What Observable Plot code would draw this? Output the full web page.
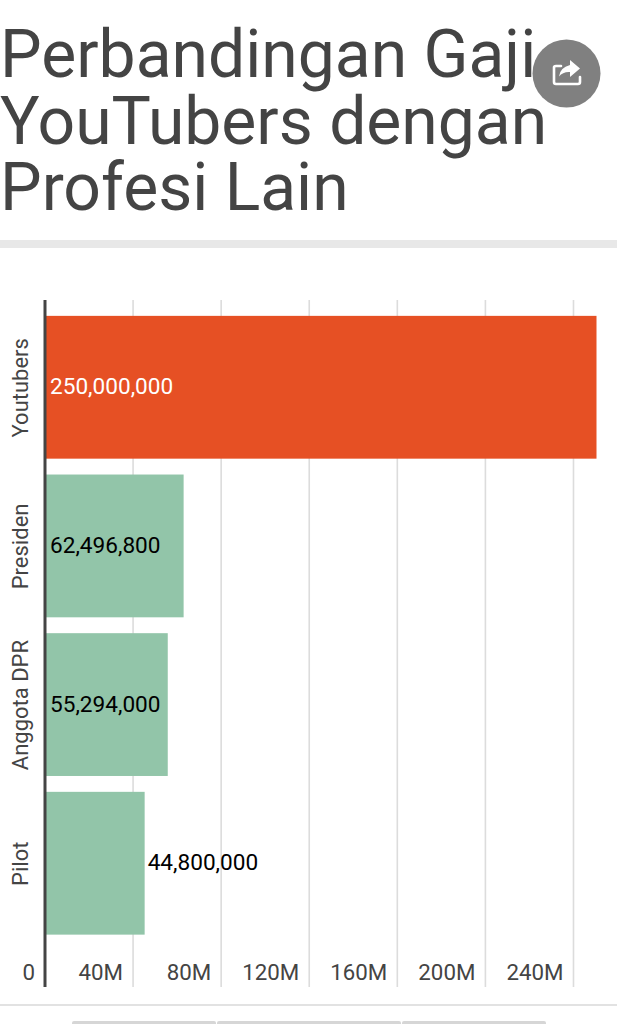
<!DOCTYPE html>
<html><head><meta charset="utf-8">
<script src="https://cdn.jsdelivr.net/npm/d3@7"></script>
<script src="https://cdn.jsdelivr.net/npm/@observablehq/plot@0.6"></script>
<style>
html,body{margin:0;padding:0;background:#fff;overflow:hidden}
body{width:617px;height:1024px;position:relative;font-family:Roboto,sans-serif}
#title{position:absolute;left:0;top:22px;margin:0;font:400 66px/66.5px Roboto,sans-serif;color:#444;width:617px}
#band{position:absolute;left:0;top:240px;width:617px;height:8px;background:#e8e8e8}
#share{position:absolute;left:532px;top:39px;width:69px;height:69px}
#chart{position:absolute;left:0;top:248px}
#foot{position:absolute;left:0;top:1004px;width:617px;height:2px;background:#e2e2e2}
.tab{position:absolute;top:1021px;height:3px;background:#d6d6d6;border-radius:2px 2px 0 0}
</style></head><body>
<h1 id="title">Perbandingan Gaji<br>YouTubers dengan<br>Profesi Lain</h1>
<svg id="share" viewBox="0 0 69 69"><circle cx="34.5" cy="34.5" r="34" fill="#808080"/>
<path d="M22 30v-1.5q0-1.5 2-1.5h5M22 30v13q0 2 2 2h22q2 0 2-2v-5" fill="none" stroke="#fff" stroke-width="2.6" stroke-linecap="round"/>
<path d="M38 21l10 8.5-10 8.5v-5q-7-.5-11 4.5q1-9 11-11.5z" fill="#fff"/></svg>
<div id="band"></div>
<div id="chart"></div>
<div id="foot"></div>
<div class="tab" style="left:72px;width:144px"></div>
<div class="tab" style="left:217px;width:184px"></div>
<div class="tab" style="left:402px;width:144px"></div>
<script>
const categories = ["Youtubers","Presiden","Anggota DPR","Pilot"];
const values = [250000000,62496800,55294000,44800000];
const valueLabels = ["250,000,000","62,496,800","55,294,000","44,800,000"];
const barColors = ["#e65024","#92c5a9","#92c5a9","#92c5a9"];
const labelColors = ["#fff","#000","#000","#000"];
const xTicks = [0,40e6,80e6,120e6,160e6,200e6,240e6];
const xTickLabels = ["0","40M","80M","120M","160M","200M","240M"];
const rows = categories.map((c,i)=>({c,v:values[i],l:valueLabels[i],bc:barColors[i],lc:labelColors[i]}));
const font = "Roboto, sans-serif";
const plot = Plot.plot({
  width:617, height:776, marginTop:52, marginBottom:37, marginLeft:45, marginRight:21,
  style:{fontFamily:font, background:"transparent"},
  x:{domain:[0,250e6], range:[44.5,595]},
  y:{domain:categories, range:[52,702.5], padding:0.1, align:0.5, round:false},
  marks:[
    Plot.gridX(xTicks.slice(1),{stroke:"#dcdcdc",strokeOpacity:1,strokeWidth:1.6}),
    Plot.barX(rows,{y:"c",x:"v",fill:d=>d.bc,dx:1.5}),
    Plot.ruleX([0],{stroke:"#444",strokeWidth:3}),
    Plot.text(rows,{y:"c",x:0,text:"l",fill:d=>d.lc,textAnchor:"start",
      dx:5,dy:-0.5,fontSize:22.6,fontFamily:font,filter:d=>d.v>=50e6}),
    Plot.text(rows,{y:"c",x:"v",text:"l",fill:d=>d.lc,textAnchor:"start",
      dx:4,dy:-0.5,fontSize:22.6,fontFamily:font,filter:d=>d.v<50e6}),
    Plot.axisY({anchor:"left",tickSize:0,tickRotate:-90,label:null,tickPadding:18,fontSize:22,
      color:"#444",fontFamily:font}),
    Plot.axisX({anchor:"bottom",ticks:xTicks,tickFormat:d=>xTickLabels[xTicks.indexOf(d)],tickSize:0,
      tickPadding:-23,label:null,textAnchor:"end",dx:-10,fontSize:22.3,color:"#444",fontFamily:font})
  ]
});
document.getElementById("chart").append(plot);
</script>
</body></html>
